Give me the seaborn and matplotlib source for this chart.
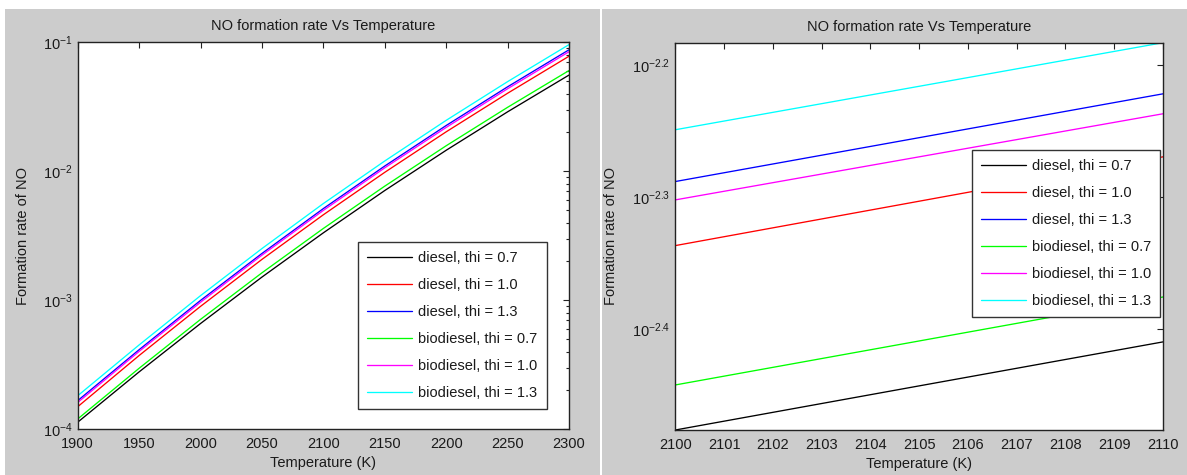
import numpy as np
import pandas as pd
import matplotlib
matplotlib.use("Agg")
import matplotlib.pyplot as plt
import matplotlib.ticker as mticker
from matplotlib.patches import Rectangle
import seaborn as sns

# ---- data: log10 of NO formation rate ----
labels = ["diesel, thi = 0.7", "diesel, thi = 1.0", "diesel, thi = 1.3",
          "biodiesel, thi = 0.7", "biodiesel, thi = 1.0", "biodiesel, thi = 1.3"]
colors = ["#000000", "#FF0000", "#0000FF", "#00FF00", "#FF00FF", "#00FFFF"]

# wide temperature sweep
temp_wide = [1900, 1950, 2000, 2050, 2100, 2150, 2200, 2250, 2300]
log_diesel_07 = [-3.945, -3.555, -3.180, -2.820, -2.477, -2.149, -1.837, -1.539, -1.254]
log_diesel_10 = [-3.825, -3.428, -3.047, -2.683, -2.337, -2.008, -1.694, -1.395, -1.108]
log_diesel_13 = [-3.778, -3.383, -3.001, -2.637, -2.289, -1.959, -1.645, -1.345, -1.058]
log_bio_07 = [-3.920, -3.527, -3.148, -2.787, -2.443, -2.115, -1.802, -1.504, -1.219]
log_bio_10 = [-3.792, -3.396, -3.015, -2.650, -2.303, -1.973, -1.660, -1.360, -1.073]
log_bio_13 = [-3.740, -3.346, -2.964, -2.599, -2.250, -1.920, -1.605, -1.305, -1.018]

# narrow temperature sweep
temp_narrow = [2100, 2105, 2110]
log_n_diesel_07 = [-2.4765, -2.4431, -2.4098]
log_n_diesel_10 = [-2.3369, -2.3033, -2.2697]
log_n_diesel_13 = [-2.2884, -2.2552, -2.2220]
log_n_bio_07 = [-2.4424, -2.4091, -2.3758]
log_n_bio_10 = [-2.3023, -2.2697, -2.2371]
log_n_bio_13 = [-2.2492, -2.2163, -2.1833]

wide_series = [log_diesel_07, log_diesel_10, log_diesel_13, log_bio_07, log_bio_10, log_bio_13]
narrow_series = [log_n_diesel_07, log_n_diesel_10, log_n_diesel_13, log_n_bio_07, log_n_bio_10, log_n_bio_13]

sns.set_theme(style="white")
plt.rcParams["font.family"] = ["Liberation Sans", "DejaVu Sans"]
plt.rcParams["mathtext.fontset"] = "custom"
plt.rcParams["mathtext.rm"] = "Liberation Sans"
plt.rcParams["mathtext.default"] = "regular"
plt.rcParams["text.color"] = "#1a1a1a"
plt.rcParams["axes.labelcolor"] = "#1a1a1a"

W, H = 1187, 475
fig = plt.figure(figsize=(W / 100, H / 100), dpi=100, facecolor="white")

# grey window panels
for x0, x1 in [(5, 600), (602, 1187)]:
    fig.add_artist(Rectangle((x0 / W, 0), (x1 - x0) / W, (H - 9) / H,
                             transform=fig.transFigure, facecolor="#cccccc",
                             edgecolor="none", zorder=-10))


def px_axes(x0, y0, x1, y1):
    return fig.add_axes([x0 / W, (H - y1) / H, (x1 - x0) / W, (y1 - y0) / H])


ax1 = px_axes(77.7, 42.3, 569, 429.3)
ax2 = px_axes(675.3, 42.7, 1163, 430)

fs = 10.5


def draw(ax, temps, series):
    for lab, col, vals in zip(labels, colors, series):
        df = pd.DataFrame({"T": temps, "rate": 10 ** np.asarray(vals)})
        sns.lineplot(data=df, x="T", y="rate", color=col, lw=0.95, label=lab, ax=ax)
    ax.set_yscale("log")
    ax.set_facecolor("white")
    for s in ax.spines.values():
        s.set_color("#222222")
        s.set_linewidth(1.0)
        s.set_visible(True)
    ax.tick_params(which="both", direction="in", top=True, right=True,
                   labelsize=fs, colors="#222222", labelcolor="#1a1a1a")
    ax.tick_params(axis="x", which="major", pad=5.5)
    ax.tick_params(which="major", length=4, width=0.8)
    ax.tick_params(which="minor", length=2.5, width=0.8)
    ax.set_title("NO formation rate Vs Temperature", fontsize=fs, pad=8.5)
    ax.set_xlabel("Temperature (K)", fontsize=fs, labelpad=4)
    ax.set_ylabel("Formation rate of NO", fontsize=fs)


draw(ax1, temp_wide, wide_series)
ax1.set_xlim(1900, 2300)
ax1.set_ylim(1e-4, 1e-1)
ax1.set_xticks(np.arange(1900, 2301, 50))
ax1.yaxis.set_major_locator(mticker.LogLocator(base=10))
ax1.yaxis.set_minor_locator(mticker.LogLocator(base=10, subs=np.arange(2, 10)))
ax1.yaxis.set_minor_formatter(mticker.NullFormatter())
ax1.yaxis.set_label_coords(-0.097, 0.5)

draw(ax2, temp_narrow, narrow_series)
all_narrow = 10 ** np.asarray(narrow_series)
ax2.set_xlim(2100, 2110)
ax2.set_ylim(all_narrow.min(), all_narrow.max())
ax2.set_xticks(np.arange(2100, 2111, 1))
ax2.yaxis.set_major_locator(mticker.FixedLocator([10 ** -2.4, 10 ** -2.3, 10 ** -2.2]))
ax2.yaxis.set_major_formatter(mticker.FixedFormatter([r"$10^{-2.4}$", r"$10^{-2.3}$", r"$10^{-2.2}$"]))
ax2.yaxis.set_minor_locator(mticker.NullLocator())
ax2.yaxis.set_label_coords(-0.1175, 0.5)

legend_kw = dict(loc="upper left", fontsize=fs, frameon=True, fancybox=False,
                 borderaxespad=0, handlelength=3.1, handletextpad=0.4,
                 labelspacing=0.89, borderpad=0.62)
for ax, anchor in [(ax1, (0.571, 0.4848)), (ax2, (0.6084, 0.7229))]:
    leg = ax.legend(bbox_to_anchor=anchor, **legend_kw)
    fr = leg.get_frame()
    fr.set_edgecolor("#333333")
    fr.set_linewidth(1.0)
    fr.set_facecolor("white")
    fr.set_alpha(1.0)

fig.savefig("out.png", dpi=100, facecolor=fig.get_facecolor())
